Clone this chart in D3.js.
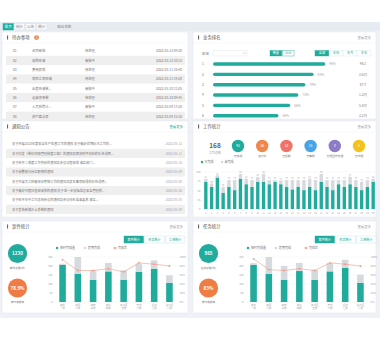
<!DOCTYPE html>
<html>
<head>
<meta charset="utf-8">
<script src="https://cdn.jsdelivr.net/npm/d3@7"></script>
<style>
  html, body { margin: 0; padding: 0; background: #fff; }
  svg { display: block; font-family: "Noto Sans CJK SC", "Noto Sans", sans-serif; }
</style>
</head>
<body>
<svg id="board" width="380" height="337"></svg>
<script>
// ---- data ----
const tabNames = ["首页", "待办", "公告", "统计"];
const exitLabel = "退出系统";

const todoIds = ["01", "02", "03", "04", "05", "06", "07", "08"];
const todoNames = ["合同审批", "采购申请", "费用报销", "项目立项申请", "出差申请单...", "设备领用单", "人员招聘计...", "资产盘点表"];
const todoStates = ["待处理", "审批中", "待处理", "待处理", "审批中", "待处理", "审批中", "待处理"];
const todoDates = ["2023-05-12 09:30", "2023-05-12 10:15", "2023-05-11 16:40", "2023-05-11 14:20",
                   "2023-05-10 11:05", "2023-05-10 09:45", "2023-05-09 17:30", "2023-05-09 15:10"];

const rankNo = ["1", "2", "3", "4", "5", "6"];
const rankPct = [96, 86, 79, 73, 66, 56];
const rankValues = ["96.1", "2.6万", "87.7", "1.3万", "5.8万", "3.2万"];
const rankTabs = ["全部", "本周", "本月", "本年"];
const rankToggle = ["数量", "占比"];

const noticeTitles = [
  "关于开展2023年度安全生产检查工作的通知    关于做好近期防汛工作的...",
  "关于印发《单位内部管理制度汇编》的通知及相关附件材料的补充说明...",
  "关于召开二季度工作例会的通知及会议议程安排    请各部门...",
  "关于调整部分岗位职责的通知",
  "关于开展员工技能培训考核工作的通知及报名事项安排的补充说明...",
  "关于做好节假日值班安排的通知    关于进一步加强信息安全管理的...",
  "关于召开年中工作总结会议的通知及会议材料准备要求    请各...",
  "关于发布新版办公系统的通知"
];
const noticeDates = ["2023-05-12", "2023-05-11", "2023-05-10", "2023-05-09",
                     "2023-05-08", "2023-05-06", "2023-05-05", "2023-05-04"];

const workTotal = "168";
const workTotalLabel = "工作总数";
const workLabels = ["已完成", "进行中", "已超期", "待审核", "已退回待处理", "已归档"];
const workValues = ["92", "36", "12", "15", "8", "5"];
const workLegend = ["已完成", "未完成"];

const days = d3.range(1, 31).map(String);
const dayDone = [73, 60, 85, 44, 60, 51, 82, 67, 60, 73, 73, 67, 73, 67, 60,
                 53, 60, 51, 60, 51, 73, 60, 51, 67, 60, 67, 60, 51, 60, 73];
const dayUndone = [8, 9, 6, 16, 18, 27, 13, 15, 18, 13, 22, 11, 5, 10, 18,
                   25, 18, 27, 22, 27, 22, 18, 27, 11, 18, 20, 18, 22, 18, 9];
const dayTicks = [0, 25, 50, 75, 100];

const areaNames = ["城东 一所", "城西 二所", "城南 三所", "城北 四所", "高新区 五所", "开发 六所", "经济 七所", "滨江区 八所"];
const caseOnTime = [207, 157, 124, 170, 124, 167, 185, 106];
const caseLate = [6, 93, 52, 47, 52, 46, 46, 42];
const caseRate = [94, 70, 70, 74, 67, 87, 84, 80];
const taskOnTime = [207, 157, 124, 172, 124, 170, 189, 106];
const taskLate = [9, 93, 76, 45, 55, 46, 46, 46];
const taskRate = [96, 72, 70, 74, 70, 87, 84, 80];
const barTicks = [0, 50, 100, 150, 200, 250];
const rateTicks = [0, 20, 40, 60, 80, 100];
const barLegend = ["按时完成量", "超期完成", "完成率"];
const barButtons = ["案件统计", "任务统计", "工单统计"];

const caseTotal = "1230", caseTotalLabel = "案件总数(件)";
const caseRatePct = "78.9%", caseRateLabel = "按时完成率";
const taskTotal = "965", taskTotalLabel = "任务总数(件)";
const taskRatePct = "83%", taskRateLabel = "按时完成率";

// ---- palette ----
const TEAL = "#21ab9c", GRAY = "#d6d9dd", ORANGE = "#f07c45", LINE = "#f29a86";
const TXT = "#777", MUTED = "#a3a8ae";

const svg = d3.select("#board");

// page background
svg.append("rect").attr("x", 0).attr("y", 22).attr("width", 380).attr("height", 296).attr("fill", "#eef1f6");

// tab bar
svg.append("rect").attr("x", 0).attr("y", 22).attr("width", 380).attr("height", 9).attr("fill", "#e7ebf2");
const tabX = d3.scaleBand().domain(tabNames).range([3, 47]).paddingInner(0.08);
const tabs = svg.append("g");
tabs.selectAll("rect").data(tabNames).join("rect")
  .attr("x", d => tabX(d)).attr("y", 23.5).attr("width", tabX.bandwidth()).attr("height", 6.5)
  .attr("fill", (d, i) => i === 0 ? TEAL : "#f7f8fa").attr("stroke", (d, i) => i === 0 ? TEAL : "#d5dae2").attr("stroke-width", 0.4);
tabs.selectAll("text").data(tabNames).join("text")
  .attr("x", d => tabX(d) + tabX.bandwidth() / 2).attr("y", 28.2).attr("text-anchor", "middle")
  .attr("font-size", 3.6).attr("fill", (d, i) => i === 0 ? "#fff" : "#888").text(d => d);
svg.append("text").attr("x", 57).attr("y", 28.2).attr("font-size", 3.6).attr("fill", "#888").text(exitLabel);

function panel(x, y, w, h, title, more, moreColor) {
  const g = svg.append("g").attr("transform", `translate(${x},${y})`);
  g.append("rect").attr("width", w).attr("height", h).attr("fill", "#fff").attr("stroke", "#e2e6ec").attr("stroke-width", 0.5);
  g.append("rect").attr("x", 5).attr("y", 3.5).attr("width", 1.1).attr("height", 4).attr("fill", "#666");
  g.append("text").attr("x", 10).attr("y", 7.2).attr("font-size", 4.4).attr("fill", "#555").text(title);
  if (more) g.append("text").attr("x", w - 5).attr("y", 7).attr("text-anchor", "end")
    .attr("font-size", 3.4).attr("fill", moreColor || MUTED).text(more);
  g.append("line").attr("x1", 0).attr("x2", w).attr("y1", 11).attr("y2", 11).attr("stroke", "#eef0f3").attr("stroke-width", 0.5);
  return g;
}

// ---- panel 1: to-do table ----
{
  const g = panel(2, 32, 186, 87, "待办事项");
  g.append("circle").attr("cx", 34.5).attr("cy", 5.6).attr("r", 2.4).attr("fill", ORANGE);
  g.append("text").attr("x", 34.5).attr("y", 6.9).attr("text-anchor", "middle").attr("font-size", 3).attr("fill", "#fff").text("8");
  const y = d3.scaleBand().domain(todoIds).range([14.5, 89]);
  const rows = g.selectAll("g.row").data(todoIds).join("g").attr("transform", d => `translate(0,${y(d)})`);
  rows.append("rect").attr("x", 4).attr("width", 179).attr("height", y.bandwidth())
    .attr("fill", (d, i) => i % 2 ? "#efefef" : "#fff");
  const ty = y.bandwidth() / 2 + 1.2;
  rows.append("text").attr("x", 11).attr("y", ty).attr("font-size", 3.3).attr("fill", TXT).text(d => d);
  rows.append("text").attr("x", 30).attr("y", ty).attr("font-size", 3.3).attr("fill", TXT).text((d, i) => todoNames[i]);
  rows.append("text").attr("x", 83).attr("y", ty).attr("font-size", 3.3).attr("fill", TXT).text((d, i) => todoStates[i]);
  rows.append("text").attr("x", 180).attr("y", ty).attr("text-anchor", "end").attr("font-size", 3.3).attr("fill", TXT).text((d, i) => todoDates[i]);
}

// ---- panel 2: ranking bars ----
{
  const px = 193, py = 32;
  const g = panel(px, py, 183, 87, "业务排名", "查看更多");
  // controls
  g.append("text").attr("x", 9).attr("y", 22.5).attr("font-size", 3.4).attr("fill", TXT).text("区域");
  g.append("rect").attr("x", 20).attr("y", 18.5).attr("width", 34).attr("height", 5.5).attr("fill", "#fff").attr("stroke", "#dcdfe4").attr("stroke-width", 0.4);
  g.append("path").attr("d", "M50 20.5 l1.2 1.4 l1.2 -1.4").attr("fill", "none").attr("stroke", "#999").attr("stroke-width", 0.4);
  const tg = d3.scaleBand().domain(rankToggle).range([77, 101]).paddingInner(0.05);
  g.selectAll("rect.tg").data(rankToggle).join("rect").attr("class", "tg")
    .attr("x", d => tg(d)).attr("y", 18.5).attr("width", tg.bandwidth()).attr("height", 5.5)
    .attr("fill", (d, i) => i ? "#fff" : TEAL).attr("stroke", TEAL).attr("stroke-width", 0.4);
  g.selectAll("text.tg").data(rankToggle).join("text").attr("class", "tg")
    .attr("x", d => tg(d) + tg.bandwidth() / 2).attr("y", 22.4).attr("text-anchor", "middle")
    .attr("font-size", 3.2).attr("fill", (d, i) => i ? TEAL : "#fff").text(d => d);
  const rb = d3.scaleBand().domain(rankTabs).range([122, 178]);
  g.selectAll("rect.rb").data(rankTabs).join("rect").attr("class", "rb")
    .attr("x", d => rb(d)).attr("y", 18.5).attr("width", rb.bandwidth()).attr("height", 5.5)
    .attr("fill", (d, i) => i ? "#fff" : TEAL).attr("stroke", (d, i) => i ? "#cfe9e5" : TEAL).attr("stroke-width", 0.4);
  g.selectAll("text.rb").data(rankTabs).join("text").attr("class", "rb")
    .attr("x", d => rb(d) + rb.bandwidth() / 2).attr("y", 22.4).attr("text-anchor", "middle")
    .attr("font-size", 3.2).attr("fill", (d, i) => i ? TEAL : "#fff").text(d => d);

  const x = d3.scaleLinear().domain([0, 100]).range([20, 137]);
  const y = d3.scalePoint().domain(rankNo).range([32, 83.7]);
  const rows = g.selectAll("g.rk").data(rankNo).join("g").attr("transform", d => `translate(0,${y(d)})`);
  rows.append("text").attr("x", 10).attr("y", 1.2).attr("text-anchor", "middle").attr("font-size", 3.3).attr("fill", TXT).text(d => d);
  rows.append("rect").attr("x", x(0)).attr("y", -1.7).attr("height", 3.4).attr("rx", 1.7)
    .attr("width", (d, i) => x(rankPct[i]) - x(0)).attr("fill", TEAL);
  rows.append("text").attr("x", (d, i) => x(rankPct[i]) + 4).attr("y", 1.2).attr("font-size", 3.2).attr("fill", MUTED).text((d, i) => rankPct[i] + "%");
  rows.append("text").attr("x", 170).attr("y", 1.2).attr("text-anchor", "middle").attr("font-size", 3.3).attr("fill", TXT).text((d, i) => rankValues[i]);
}

// ---- panel 3: notices ----
{
  const g = panel(2, 121, 186, 96, "通知公告", "查看更多", TEAL);
  const y = d3.scaleBand().domain(noticeDates).range([18.5, 93]);
  const rows = g.selectAll("g.row").data(noticeDates).join("g").attr("transform", d => `translate(0,${y(d)})`);
  rows.append("rect").attr("x", 4).attr("width", 179).attr("height", y.bandwidth()).attr("fill", (d, i) => i % 2 ? "#efefef" : "#fff");
  const ty = y.bandwidth() / 2 + 1.2;
  rows.append("text").attr("x", 10).attr("y", ty).attr("font-size", 3.2).attr("fill", TXT).text((d, i) => noticeTitles[i]);
  rows.append("text").attr("x", 180).attr("y", ty).attr("text-anchor", "end").attr("font-size", 3.2).attr("fill", MUTED).text(d => d);
}

// ---- panel 4: work statistics ----
{
  const px = 193, py = 121;
  const g = panel(px, py, 183, 96, "工作统计", "查看更多");
  g.append("text").attr("x", 22).attr("y", 26.5).attr("text-anchor", "middle").attr("font-size", 6.5).attr("font-weight", "bold").attr("fill", "#666").text(workTotal);
  g.append("text").attr("x", 22).attr("y", 33).attr("text-anchor", "middle").attr("font-size", 3).attr("fill", MUTED).text(workTotalLabel);
  const colors = [TEAL, "#f0884c", "#ef7468", "#45a5e6", "#8e7ac6", "#f3c21b"];
  const cx = d3.scalePoint().domain(workLabels).range([45, 166]);
  const items = g.selectAll("g.st").data(workLabels).join("g").attr("transform", d => `translate(${cx(d)},25)`);
  items.append("circle").attr("r", 6.2).attr("fill", (d, i) => colors[i]);
  items.append("text").attr("y", 1.1).attr("text-anchor", "middle").attr("font-size", 3.2).attr("fill", "#fff").text((d, i) => workValues[i]);
  items.append("text").attr("y", 11).attr("text-anchor", "middle").attr("font-size", 2.8).attr("fill", TXT).text(d => d);
  // legend
  const lg = g.append("g").attr("transform", "translate(9,41)");
  [TEAL, GRAY].forEach((c, i) => {
    lg.append("circle").attr("cx", i * 20).attr("cy", 0).attr("r", 1.2).attr("fill", c);
    lg.append("text").attr("x", i * 20 + 2.5).attr("y", 1.1).attr("font-size", 3).attr("fill", TXT).text(workLegend[i]);
  });
  // stacked bar chart
  const x = d3.scaleBand().domain(days).range([10, 183]).paddingInner(0.42).paddingOuter(0.2);
  const y = d3.scaleLinear().domain([0, 100]).range([88, 51]);
  g.selectAll("line.gd").data(dayTicks).join("line").attr("class", "gd")
    .attr("x1", 10).attr("x2", 183).attr("y1", d => y(d)).attr("y2", d => y(d)).attr("stroke", "#eceef1").attr("stroke-width", 0.4);
  g.selectAll("text.yt").data(dayTicks).join("text").attr("class", "yt")
    .attr("x", 7.5).attr("y", d => y(d) + 1).attr("text-anchor", "end").attr("font-size", 2.6).attr("fill", MUTED).text(d => d);
  g.selectAll("rect.dn").data(days).join("rect").attr("class", "dn")
    .attr("x", d => x(d)).attr("width", x.bandwidth())
    .attr("y", (d, i) => y(dayDone[i])).attr("height", (d, i) => y(0) - y(dayDone[i])).attr("fill", TEAL);
  g.selectAll("rect.un").data(days).join("rect").attr("class", "un")
    .attr("x", d => x(d)).attr("width", x.bandwidth())
    .attr("y", (d, i) => y(dayDone[i] + dayUndone[i])).attr("height", (d, i) => y(dayDone[i]) - y(dayDone[i] + dayUndone[i])).attr("fill", GRAY);
  g.selectAll("text.vl").data(days).join("text").attr("class", "vl")
    .attr("x", d => x(d) + x.bandwidth() / 2).attr("y", (d, i) => y(dayDone[i] + dayUndone[i]) - 0.8)
    .attr("text-anchor", "middle").attr("font-size", 2.2).attr("fill", "#aaa").text((d, i) => dayDone[i] + dayUndone[i]);
  g.selectAll("text.xt").data(days).join("text").attr("class", "xt")
    .attr("x", d => x(d) + x.bandwidth() / 2).attr("y", 92.5).attr("text-anchor", "middle").attr("font-size", 2.4).attr("fill", MUTED).text(d => d);
}

// ---- bottom panels: bars + rate line ----
function comboPanel(px, title, total, totalLabel, pct, pctLabel, onTime, late, rate) {
  const py = 221;
  const g = panel(px, py, px === 2 ? 186 : 183, 92, title, "查看更多");
  // summary circles
  g.append("circle").attr("cx", 15.5).attr("cy", 32.5).attr("r", 9.6).attr("fill", TEAL);
  g.append("text").attr("x", 15.5).attr("y", 34.2).attr("text-anchor", "middle").attr("font-size", 4.6).attr("font-weight", "bold").attr("fill", "#fff").text(total);
  g.append("text").attr("x", 15.5).attr("y", 47.5).attr("text-anchor", "middle").attr("font-size", 2.7).attr("fill", TXT).text(totalLabel);
  g.append("circle").attr("cx", 15.5).attr("cy", 67).attr("r", 9.6).attr("fill", ORANGE);
  g.append("text").attr("x", 15.5).attr("y", 68.7).attr("text-anchor", "middle").attr("font-size", 4.6).attr("font-weight", "bold").attr("fill", "#fff").text(pct);
  g.append("text").attr("x", 15.5).attr("y", 82).attr("text-anchor", "middle").attr("font-size", 2.7).attr("fill", TXT).text(pctLabel);
  // buttons
  const bb = d3.scaleBand().domain(barButtons).range([122, 183]).paddingInner(0.06);
  g.selectAll("rect.bt").data(barButtons).join("rect").attr("class", "bt")
    .attr("x", d => bb(d)).attr("y", 15).attr("width", bb.bandwidth()).attr("height", 7)
    .attr("fill", (d, i) => i ? "#fff" : TEAL).attr("stroke", (d, i) => i ? "#bfe3de" : TEAL).attr("stroke-width", 0.4);
  g.selectAll("text.bt").data(barButtons).join("text").attr("class", "bt")
    .attr("x", d => bb(d) + bb.bandwidth() / 2).attr("y", 19.7).attr("text-anchor", "middle")
    .attr("font-size", 3.1).attr("fill", (d, i) => i ? TEAL : "#fff").text(d => d);
  // legend
  const lg = g.append("g").attr("transform", "translate(55,27)");
  const lx = [0, 28, 58];
  lg.append("rect").attr("x", lx[0] - 1.1).attr("y", -1.1).attr("width", 2.2).attr("height", 2.2).attr("fill", TEAL);
  lg.append("rect").attr("x", lx[1] - 1.1).attr("y", -1.1).attr("width", 2.2).attr("height", 2.2).attr("fill", GRAY);
  lg.append("line").attr("x1", lx[2] - 2).attr("x2", lx[2] + 2).attr("y1", 0).attr("y2", 0).attr("stroke", LINE).attr("stroke-width", 0.6);
  lg.append("circle").attr("cx", lx[2]).attr("cy", 0).attr("r", 1).attr("fill", LINE);
  lg.selectAll("text").data(barLegend).join("text").attr("x", (d, i) => lx[i] + 3).attr("y", 1.1)
    .attr("font-size", 3).attr("fill", TXT).text(d => d);
  // chart
  const x = d3.scaleBand().domain(areaNames).range([53, 175]).paddingInner(0.57).paddingOuter(0.28);
  const y = d3.scaleLinear().domain([0, 250]).range([81, 36]);
  const y2 = d3.scaleLinear().domain([0, 100]).range([81, 36]);
  g.selectAll("line.gd").data(barTicks).join("line").attr("class", "gd")
    .attr("x1", 53).attr("x2", 175).attr("y1", d => y(d)).attr("y2", d => y(d)).attr("stroke", "#eceef1").attr("stroke-width", 0.4);
  g.selectAll("text.yl").data(barTicks).join("text").attr("class", "yl")
    .attr("x", 50.5).attr("y", d => y(d) + 1).attr("text-anchor", "end").attr("font-size", 2.6).attr("fill", MUTED).text(d => d);
  g.selectAll("text.yr").data(rateTicks).join("text").attr("class", "yr")
    .attr("x", 177.5).attr("y", d => y2(d) + 1).attr("font-size", 2.6).attr("fill", MUTED).text(d => d + "%");
  g.selectAll("rect.on").data(areaNames).join("rect").attr("class", "on")
    .attr("x", d => x(d)).attr("width", x.bandwidth())
    .attr("y", (d, i) => y(onTime[i])).attr("height", (d, i) => y(0) - y(onTime[i])).attr("fill", TEAL);
  g.selectAll("rect.lt").data(areaNames).join("rect").attr("class", "lt")
    .attr("x", d => x(d)).attr("width", x.bandwidth())
    .attr("y", (d, i) => y(onTime[i] + late[i])).attr("height", (d, i) => y(onTime[i]) - y(onTime[i] + late[i])).attr("fill", GRAY);
  const line = d3.line().x((d, i) => x(areaNames[i]) + x.bandwidth() / 2).y(d => y2(d));
  g.append("path").datum(rate).attr("d", line).attr("fill", "none").attr("stroke", LINE).attr("stroke-width", 0.6);
  g.selectAll("circle.pt").data(rate).join("circle").attr("class", "pt")
    .attr("cx", (d, i) => x(areaNames[i]) + x.bandwidth() / 2).attr("cy", d => y2(d)).attr("r", 0.9).attr("fill", LINE);
  const xl = g.selectAll("text.xl").data(areaNames).join("text").attr("class", "xl")
    .attr("text-anchor", "middle").attr("font-size", 2.5).attr("fill", MUTED);
  xl.each(function (d) {
    const parts = d.split(" ");
    const t = d3.select(this);
    parts.forEach((p, k) => t.append("tspan").attr("x", x(d) + x.bandwidth() / 2).attr("y", 84.5 + k * 3).text(p));
  });
}
comboPanel(2, "案件统计", caseTotal, caseTotalLabel, caseRatePct, caseRateLabel, caseOnTime, caseLate, caseRate);
comboPanel(193, "任务统计", taskTotal, taskTotalLabel, taskRatePct, taskRateLabel, taskOnTime, taskLate, taskRate);
</script>
</body>
</html>
